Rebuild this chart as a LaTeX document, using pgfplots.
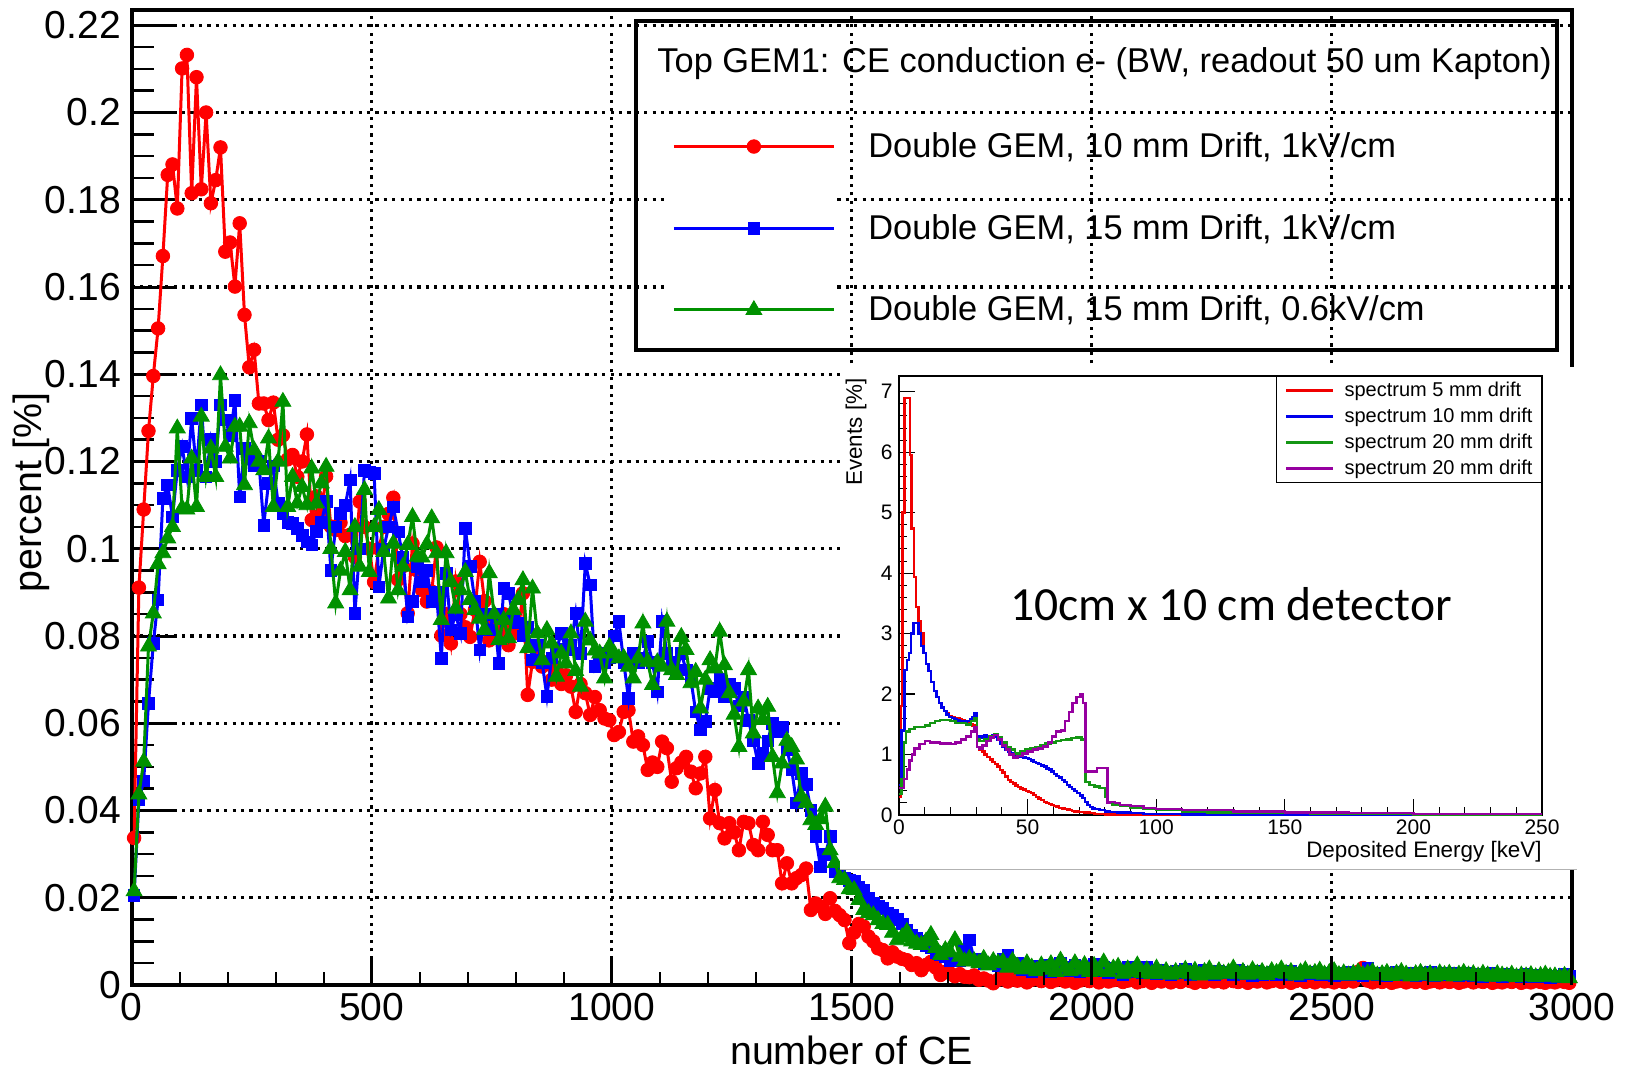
\documentclass[border=0pt]{standalone}
\usepackage{fontspec}
\setmainfont{Liberation Sans}
\newfontfamily\carlito{Carlito}
\usepackage{pgfplots}
\pgfplotsset{compat=1.18, /pgf/number format/assume math mode=true}
\definecolor{rgreen}{RGB}{0,145,0}
\definecolor{rblue}{RGB}{0,0,255}
\definecolor{ired}{RGB}{240,0,0}
\definecolor{iblue}{RGB}{0,0,235}
\definecolor{igreen}{RGB}{20,150,20}
\definecolor{ipurple}{RGB}{150,0,160}
\begin{document}
\begin{tikzpicture}
\begin{axis}[
  at={(0pt,0pt)}, anchor=south west,
  scale only axis, width=720pt, height=487.5pt,
  xmin=0, xmax=3000, ymin=0, ymax=0.2235,
  axis line style={line width=2pt},
  xtick={0,500,1000,1500,2000,2500,3000}, xticklabels={},
  xtick style={draw=none},
  ytick={0,0.02,0.04,0.06,0.08,0.1,0.12,0.14,0.16,0.18,0.2,0.22},
  yticklabels={0,0.02,0.04,0.06,0.08,0.1,0.12,0.14,0.16,0.18,0.2,0.22},
  minor y tick num=3,
  tick pos=left, tick align=inside,
  major tick length=21.5pt, minor tick length=11pt,
  major tick style={line width=1.5pt, black},
  minor tick style={line width=1.2pt, black},
  grid=major,
  major grid style={line width=1.6pt, black, dash pattern=on 1.6pt off 2.6pt},
  yticklabel style={font=\fontsize{19.5}{23}\selectfont, inner sep=0pt, xshift=-5.3pt},
  ylabel={percent [\%]},
  ylabel style={font=\fontsize{19.7}{23}\selectfont, at={(axis description cs:-0.0699,0.505)}, anchor=center},
  clip mode=individual,
  legend style={at={(0.3752,0.8747)}, anchor=north west, draw=none, fill=none, inner sep=0pt,
    font=\fontsize{17.2}{20}\selectfont, row sep=26.9pt, /tikz/column sep=16.5pt, nodes={inner sep=0pt}},
  legend cell align=left,
  legend image code/.code={\draw[mark repeat=2,mark phase=2] plot coordinates {(0pt,0pt) (40pt,0pt) (80pt,0pt)};},
]
\fill[white] (axis cs:1111,0.172) rectangle (axis cs:1465,0.188);
\fill[white] (axis cs:1111,0.152) rectangle (axis cs:1465,0.168);
\addplot[red, line width=1.5pt, mark=*, mark size=3.4pt, mark options={solid, line width=0.4pt}] coordinates {
(5,.0337)(15,.0911)(25,.109)(35,.127)(45,.1396)(55,.1505)(65,.1671)(75,.1857)(85,.1881)(95,.178)
(105,.2101)(115,.2132)(125,.1815)(135,.2081)(145,.1824)(155,.2000)(165,.1792)(175,.1845)(185,.192)(195,.1681)
(205,.1702)(215,.1601)(225,.1746)(235,.1536)(245,.1416)(255,.1456)(265,.1333)(275,.1333)(285,.1295)(295,.1335)
(305,.1250)(315,.1260)(325,.1205)(335,.1215)(345,.1165)(355,.1200)(365,.1262)(375,.1066)(385,.1120)(395,.1080)
(405,.1166)(415,.1051)(425,.1043)(435,.1060)(445,.1029)(455,.1032)(465,.0981)(475,.1108)(485,.1050)(495,.1000)
(505,.0924)(515,.1000)(525,.1050)(535,.1080)(545,.1117)(555,.0929)(565,.0960)(575,.0852)(585,.1012)(595,.0950)
(605,.0905)(615,.0879)(625,.0902)(635,.1003)(645,.0801)(655,.0850)(665,.0783)(675,.0925)(685,.0850)(695,.0820)
(705,.0798)(715,.0860)(725,.0970)(735,.0880)(745,.0790)(755,.0830)(765,.0810)(775,.0850)(785,.0779)(795,.0820)
(805,.0806)(815,.0898)(825,.0665)(835,.0741)(845,.0760)(855,.0730)(865,.0740)(875,.0700)(885,.0720)(895,.0690)
(905,.0710)(915,.0684)(925,.0626)(935,.0690)(945,.0669)(955,.0619)(965,.0660)(975,.0630)(985,.0611)(995,.0607)
(1005,.0573)(1015,.0580)(1025,.0626)(1035,.0630)(1045,.0558)(1055,.0570)(1065,.0550)(1075,.0493)(1085,.0510)(1095,.0500)
(1105,.0558)(1115,.0543)(1125,.0466)(1135,.0497)(1145,.0510)(1155,.0523)(1165,.0489)(1175,.0451)(1185,.0485)(1195,.0523)
(1205,.0382)(1215,.0447)(1225,.0371)(1235,.0336)(1245,.0371)(1255,.0350)(1265,.0309)(1275,.0374)(1285,.0371)(1295,.0321)
(1305,.0309)(1315,.0374)(1325,.0344)(1335,.0309)(1345,.0309)(1355,.0233)(1365,.0279)(1375,.0233)(1385,.0245)(1395,.0252)
(1405,.0267)(1415,.0172)(1425,.0187)(1435,.0180)(1445,.0163)(1455,.0199)(1465,.0170)(1475,.0160)(1485,.0149)(1495,.0096)
(1505,.0120)(1515,.0140)(1525,.0134)(1535,.0111)(1545,.0100)(1555,.0084)(1565,.0080)(1575,.0061)(1585,.0075)(1595,.0065)
(1605,.0060)(1615,.0057)(1625,.0046)(1635,.0050)(1645,.0034)(1655,.0046)(1665,.0053)(1675,.0040)(1685,.0023)(1695,.0030)
(1705,.0027)(1715,.0020)(1725,.0025)(1735,.0019)(1745,.0018)(1755,.0022)(1765,.0012)(1775,.0015)(1785,.0010)(1795,.0004)
(1805,.0012)(1815,.0020)(1825,.0008)(1835,.0015)(1845,.0010)(1855,.0018)(1865,.0006)(1875,.0012)(1885,.0022)(1895,.0009)
(1905,.0014)(1915,.0007)(1925,.0011)(1935,.0016)(1945,.0008)(1955,.0013)(1965,.0005)(1975,.0010)(1985,.0015)(1995,.0009)
(2005,.0012)(2015,.0006)(2025,.0014)(2035,.0008)(2045,.0011)(2055,.0016)(2065,.0007)(2075,.0010)(2085,.0013)(2095,.0006)
(2105,.0009)(2115,.0012)(2125,.0005)(2135,.0011)(2145,.0008)(2155,.0014)(2165,.0006)(2175,.0010)(2185,.0007)(2195,.0012)
(2205,.0009)(2215,.0005)(2225,.0011)(2235,.0007)(2245,.0013)(2255,.0008)(2265,.0010)(2275,.0006)(2285,.0012)(2295,.0009)
(2305,.0007)(2315,.0011)(2325,.0005)(2335,.0010)(2345,.0008)(2355,.0012)(2365,.0006)(2375,.0009)(2385,.0011)(2395,.0007)
(2405,.0010)(2415,.0005)(2425,.0009)(2435,.0012)(2445,.0007)(2455,.0010)(2465,.0006)(2475,.0011)(2485,.0008)(2495,.0009)
(2505,.0006)(2515,.0010)(2525,.0007)(2535,.0012)(2545,.0008)(2555,.0030)(2565,.0039)(2575,.0010)(2585,.0006)(2595,.0009)
(2605,.0007)(2615,.0011)(2625,.0005)(2635,.0008)(2645,.0010)(2655,.0006)(2665,.0009)(2675,.0007)(2685,.0011)(2695,.0005)
(2705,.0008)(2715,.0010)(2725,.0006)(2735,.0009)(2745,.0007)(2755,.0010)(2765,.0005)(2775,.0008)(2785,.0011)(2795,.0006)
(2805,.0009)(2815,.0007)(2825,.0010)(2835,.0005)(2845,.0008)(2855,.0006)(2865,.0009)(2875,.0007)(2885,.0010)(2895,.0005)
(2905,.0008)(2915,.0006)(2925,.0009)(2935,.0007)(2945,.0005)(2955,.0008)(2965,.0006)(2975,.0009)(2985,.0007)(2995,.0005)
};
\addlegendentry{Double GEM, 10 mm Drift, 1kV/cm}
\addplot[rblue, line width=1.5pt, mark=square*, mark size=2.9pt, mark options={solid, line width=0.4pt}] coordinates {
(5,.0205)(15,.0424)(25,.0468)(35,.0646)(45,.0783)(55,.0883)(65,.1116)(75,.1146)(85,.1073)(95,.1180)
(105,.1234)(115,.1165)(125,.1299)(135,.1180)(145,.1330)(155,.1165)(165,.1250)(175,.1200)(185,.1330)(195,.1295)
(205,.1260)(215,.1340)(225,.1119)(235,.1230)(245,.1207)(255,.1190)(265,.1200)(275,.1054)(285,.1150)(295,.1190)
(305,.1104)(315,.1080)(325,.1060)(335,.1058)(345,.1047)(355,.1030)(365,.1016)(375,.1009)(385,.1040)(395,.1060)
(405,.1108)(415,.0951)(425,.1050)(435,.1081)(445,.1100)(455,.1158)(465,.0852)(475,.1000)(485,.1180)(495,.1176)
(505,.1173)(515,.0913)(525,.1000)(535,.1050)(545,.1096)(555,.1039)(565,.0980)(575,.0844)(585,.0879)(595,.0959)
(605,.0924)(615,.0950)(625,.0880)(635,.0900)(645,.0749)(655,.0944)(665,.0814)(675,.0850)(685,.0806)(695,.1047)
(705,.0959)(715,.0880)(725,.0768)(735,.0850)(745,.0814)(755,.0850)(765,.0737)(775,.0909)(785,.0898)(795,.0844)
(805,.0830)(815,.0800)(825,.0820)(835,.0745)(845,.0780)(855,.0740)(865,.0661)(875,.0750)(885,.0770)(895,.0806)
(905,.0768)(915,.0780)(925,.0852)(935,.0760)(945,.0967)(955,.0917)(965,.0730)(975,.0760)(985,.0740)(995,.0750)
(1005,.0800)(1015,.0833)(1025,.0740)(1035,.0657)(1045,.0760)(1055,.0740)(1065,.0750)(1075,.0787)(1085,.0740)(1095,.0672)
(1105,.0833)(1115,.0760)(1125,.0741)(1135,.0720)(1145,.0760)(1155,.0722)(1165,.0700)(1175,.0626)(1185,.0585)(1195,.0604)
(1205,.0680)(1215,.0672)(1225,.0700)(1235,.0661)(1245,.0690)(1255,.0680)(1265,.0640)(1275,.0660)(1285,.0607)(1295,.0560)
(1305,.0508)(1315,.0531)(1325,.0560)(1335,.0600)(1345,.0580)(1355,.0592)(1365,.0540)(1375,.0493)(1385,.0417)(1395,.0485)
(1405,.0460)(1415,.0400)(1425,.0340)(1435,.0271)(1445,.0300)(1455,.0340)(1465,.0260)(1475,.0250)(1485,.0245)(1495,.0240)
(1505,.0237)(1515,.0225)(1525,.0218)(1535,.0200)(1545,.0187)(1555,.0180)(1565,.0175)(1575,.0165)(1585,.0160)(1595,.0150)
(1605,.0140)(1615,.0125)(1625,.0115)(1635,.0107)(1645,.0100)(1655,.0090)(1665,.0085)(1675,.0075)(1685,.0070)(1695,.0065)
(1705,.0057)(1715,.0060)(1725,.0055)(1735,.0080)(1745,.0103)(1755,.0060)(1765,.0055)(1775,.0050)(1785,.0048)(1795,.0050)
(1805,.0045)(1815,.0060)(1825,.0069)(1835,.0045)(1845,.0050)(1855,.0035)(1865,.0040)(1875,.0030)(1885,.0042)(1895,.0035)
(1905,.0045)(1915,.0030)(1925,.0038)(1935,.0050)(1945,.0040)(1955,.0032)(1965,.0045)(1975,.0030)(1985,.0040)(1995,.0035)
(2005,.0048)(2015,.0032)(2025,.0040)(2035,.0028)(2045,.0038)(2055,.0035)(2065,.0025)(2075,.0040)(2085,.0030)(2095,.0035)
(2105,.0028)(2115,.0040)(2125,.0030)(2135,.0026)(2145,.0035)(2155,.0030)(2165,.0025)(2175,.0032)(2185,.0028)(2195,.0036)
(2205,.0025)(2215,.0030)(2225,.0026)(2235,.0034)(2245,.0028)(2255,.0024)(2265,.0032)(2275,.0028)(2285,.0030)(2295,.0025)
(2305,.0034)(2315,.0026)(2325,.0029)(2335,.0022)(2345,.0031)(2355,.0025)(2365,.0028)(2375,.0030)(2385,.0024)(2395,.0029)
(2405,.0025)(2415,.0032)(2425,.0027)(2435,.0022)(2445,.0029)(2455,.0026)(2465,.0030)(2475,.0024)(2485,.0028)(2495,.0025)
(2505,.0022)(2515,.0028)(2525,.0025)(2535,.0030)(2545,.0024)(2555,.0027)(2565,.0022)(2575,.0038)(2585,.0026)(2595,.0024)
(2605,.0028)(2615,.0022)(2625,.0026)(2635,.0030)(2645,.0023)(2655,.0025)(2665,.0028)(2675,.0022)(2685,.0026)(2695,.0024)
(2705,.0029)(2715,.0022)(2725,.0025)(2735,.0028)(2745,.0023)(2755,.0026)(2765,.0021)(2775,.0024)(2785,.0027)(2795,.0022)
(2805,.0025)(2815,.0020)(2825,.0024)(2835,.0027)(2845,.0022)(2855,.0020)(2865,.0024)(2875,.0021)(2885,.0023)(2895,.0020)
(2905,.0024)(2915,.0019)(2925,.0022)(2935,.0020)(2945,.0023)(2955,.0018)(2965,.0021)(2975,.0019)(2985,.0024)(2995,.0020)
};
\addlegendentry{Double GEM, 15 mm Drift, 1kV/cm}
\addplot[rgreen, line width=1.5pt, mark=triangle*, mark size=4.6pt, mark options={solid, line width=0.4pt}] coordinates {
(5,.0215)(15,.0437)(25,.0512)(35,.0776)(45,.0852)(55,.0965)(65,.0990)(75,.1024)(85,.1050)(95,.1276)
(105,.1093)(115,.1090)(125,.1207)(135,.1096)(145,.1303)(155,.1165)(165,.1230)(175,.1165)(185,.1398)(195,.1234)
(205,.1207)(215,.1280)(225,.1280)(235,.1146)(245,.1288)(255,.1226)(265,.1200)(275,.1180)(285,.1253)(295,.1096)
(305,.1200)(315,.1337)(325,.1096)(335,.1165)(345,.1104)(355,.1142)(365,.1100)(375,.1184)(385,.1104)(395,.1150)
(405,.1188)(415,.1000)(425,.0875)(435,.0950)(445,.0993)(455,.0905)(465,.1050)(475,.0959)(485,.1135)(495,.0947)
(505,.1050)(515,.1089)(525,.0993)(535,.0886)(545,.1012)(555,.0905)(565,.0959)(575,.1009)(585,.1073)(595,.0982)
(605,.0980)(615,.1010)(625,.1070)(635,.0990)(645,.0837)(655,.0990)(665,.0924)(675,.0863)(685,.0905)(695,.0947)
(705,.0883)(715,.0860)(725,.0840)(735,.0814)(745,.0944)(755,.0850)(765,.0791)(775,.0837)(785,.0795)(795,.0860)
(805,.0883)(815,.0928)(825,.0772)(835,.0909)(845,.0806)(855,.0745)(865,.0814)(875,.0783)(885,.0707)(895,.0760)
(905,.0737)(915,.0806)(925,.0720)(935,.0684)(945,.0833)(955,.0790)(965,.0767)(975,.0760)(985,.0703)(995,.0775)
(1005,.0760)(1015,.0749)(1025,.0750)(1035,.0730)(1045,.0703)(1055,.0749)(1065,.0829)(1075,.0741)(1085,.0688)(1095,.0740)
(1105,.0730)(1115,.0833)(1125,.0722)(1135,.0711)(1145,.0798)(1155,.0768)(1165,.0692)(1175,.0718)(1185,.0634)(1195,.0700)
(1205,.0745)(1215,.0726)(1225,.0810)(1235,.0733)(1245,.0669)(1255,.0620)(1265,.0546)(1275,.0650)(1285,.0722)(1295,.0577)
(1305,.0634)(1315,.0608)(1325,.0638)(1335,.0523)(1345,.0440)(1355,.0508)(1365,.0560)(1375,.0546)(1385,.0517)(1395,.0432)
(1405,.0417)(1415,.0378)(1425,.0367)(1435,.0380)(1445,.0409)(1455,.0309)(1465,.0280)(1475,.0245)(1485,.0241)(1495,.0220)
(1505,.0218)(1515,.0195)(1525,.0172)(1535,.0165)(1545,.0160)(1555,.0149)(1565,.0140)(1575,.0138)(1585,.0120)(1595,.0103)
(1605,.0110)(1615,.0122)(1625,.0100)(1635,.0095)(1645,.0092)(1655,.0100)(1665,.0115)(1675,.0085)(1685,.0069)(1695,.0080)
(1705,.0075)(1715,.0103)(1725,.0065)(1735,.0054)(1745,.0060)(1755,.0055)(1765,.0050)(1775,.0060)(1785,.0045)(1795,.0055)
(1805,.0050)(1815,.0053)(1825,.0040)(1835,.0055)(1845,.0042)(1855,.0036)(1865,.0050)(1875,.0040)(1885,.0032)(1895,.0045)
(1905,.0035)(1915,.0048)(1925,.0030)(1935,.0056)(1945,.0040)(1955,.0032)(1965,.0050)(1975,.0035)(1985,.0046)(1995,.0030)
(2005,.0044)(2015,.0032)(2025,.0052)(2035,.0030)(2045,.0038)(2055,.0042)(2065,.0026)(2075,.0036)(2085,.0030)(2095,.0045)
(2105,.0028)(2115,.0034)(2125,.0025)(2135,.0038)(2145,.0026)(2155,.0032)(2165,.0024)(2175,.0030)(2185,.0027)(2195,.0035)
(2205,.0025)(2215,.0033)(2225,.0022)(2235,.0030)(2245,.0036)(2255,.0024)(2265,.0032)(2275,.0026)(2285,.0029)(2295,.0038)
(2305,.0025)(2315,.0030)(2325,.0024)(2335,.0034)(2345,.0026)(2355,.0030)(2365,.0023)(2375,.0032)(2385,.0028)(2395,.0036)
(2405,.0026)(2415,.0030)(2425,.0022)(2435,.0029)(2445,.0034)(2455,.0025)(2465,.0028)(2475,.0033)(2485,.0024)(2495,.0028)
(2505,.0032)(2515,.0023)(2525,.0027)(2535,.0022)(2545,.0026)(2555,.0029)(2565,.0023)(2575,.0027)(2585,.0030)(2595,.0022)
(2605,.0025)(2615,.0028)(2625,.0021)(2635,.0026)(2645,.0030)(2655,.0024)(2665,.0020)(2675,.0025)(2685,.0028)(2695,.0022)
(2705,.0025)(2715,.0020)(2725,.0027)(2735,.0023)(2745,.0026)(2755,.0020)(2765,.0024)(2775,.0028)(2785,.0022)(2795,.0025)
(2805,.0020)(2815,.0026)(2825,.0022)(2835,.0019)(2845,.0025)(2855,.0022)(2865,.0020)(2875,.0024)(2885,.0018)(2895,.0022)
(2905,.0020)(2915,.0023)(2925,.0018)(2935,.0021)(2945,.0024)(2955,.0019)(2965,.0020)(2975,.0017)(2985,.0021)(2995,.0016)
};
\addlegendentry{Double GEM, 15 mm Drift, 0.6kV/cm}
\end{axis}
% x ticks (shorter than the y ticks)
\begin{axis}[
  at={(0pt,0pt)}, anchor=south west,
  scale only axis, width=720pt, height=487.5pt,
  xmin=0, xmax=3000, ymin=0, ymax=0.2235,
  axis line style={draw=none},
  ytick=\empty,
  xtick={0,500,1000,1500,2000,2500,3000},
  xticklabels={0,500,1000,1500,2000,2500,3000},
  minor x tick num=4,
  tick pos=left, tick align=inside,
  major tick length=14.5pt, minor tick length=6.5pt,
  major tick style={line width=1.5pt, black},
  minor tick style={line width=1.2pt, black},
  xticklabel style={font=\fontsize{19.5}{23}\selectfont, inner sep=0pt, anchor=north, yshift=-4pt},
  xlabel={number of CE},
  xlabel style={font=\fontsize{19.7}{23}\selectfont, at={(axis description cs:0.5,0)}, anchor=north, inner sep=0pt, yshift=-25.5pt},
]
\end{axis}
% legend frame and header
\draw[line width=2pt] (252.15pt,317.5pt) rectangle (712.65pt,482pt);
\node[anchor=base west, inner sep=0pt, font=\fontsize{17.2}{20}\selectfont] at (262.65pt,456.25pt) {Top GEM1: CE conduction e- (BW, readout 50 um Kapton)};
% inset
\fill[white] (354.15pt,57.75pt) rectangle (722.65pt,309pt);
\draw[black!30, line width=0.6pt] (354.15pt,57.75pt) -- (722.65pt,57.75pt);
\begin{axis}[
  at={(383.65pt,85pt)}, anchor=south west,
  scale only axis, width=321.5pt, height=219.5pt,
  xmin=0, xmax=250, ymin=0, ymax=7.26,
  axis line style={line width=0.7pt},
  tick pos=left, tick align=inside,
  xtick={0,50,100,150,200,250}, ytick={0,1,2,3,4,5,6,7},
  minor x tick num=4, minor y tick num=4,
  major tick length=8pt, minor tick length=4pt,
  major tick style={line width=0.6pt, black},
  minor tick style={line width=0.5pt, black},
  tick label style={font=\fontsize{10.5}{12}\selectfont},
  yticklabel style={inner sep=0pt, xshift=-3pt},
  xticklabel style={inner sep=0pt, anchor=north, yshift=-2pt},
  xlabel={Deposited Energy [keV]},
  ylabel={Events [\%]},
  xlabel style={font=\fontsize{11.2}{13}\selectfont, at={(axis description cs:1,-0.0843)}, anchor=east, inner sep=0pt},
  ylabel style={font=\fontsize{11.2}{13}\selectfont, at={(axis description cs:-0.0669,0.995)}, anchor=east, inner sep=0pt},
  legend style={at={(1,1)}, anchor=north east, draw=black, line width=0.6pt, fill=white,
    font=\fontsize{10}{12}\selectfont, inner xsep=4.5pt, inner ysep=2.5pt, row sep=4.3pt,
    /tikz/column sep=5pt, nodes={inner sep=0pt}},
  legend cell align=left,
  legend image code/.code={\draw (0pt,0pt) -- (23.5pt,0pt);},
]
\addplot[const plot, ired, line width=1.2pt] coordinates {
(0,0.3)(0.8,1.8)(1.4,5.0)(2.1,6.9)(4.3,5.95)(4.9,4.74)(5.8,3.94)(6.7,3.44)(7.5,3.2)(8.5,3.0)(9.5,2.68)
(10.5,2.5)(11.5,2.38)(12.5,2.2)(13.5,2.05)(14.5,1.95)(15.5,1.85)(16.5,1.78)(17.5,1.72)(18.5,1.68)(19.5,1.64)
(20.5,1.62)(21.5,1.6)(22.5,1.6)(23.5,1.58)(24.5,1.57)(25.5,1.55)(26.5,1.53)(27.5,1.5)(28.5,1.48)(29.5,1.42)
(30.3,1.12)(31.3,1.08)(32.3,1.05)(33.3,1.0)(34.3,0.96)(35.3,0.92)(36.3,0.88)(37.3,0.84)(38.3,0.8)(39.3,0.74)
(40.3,0.7)(41.3,0.64)(42.3,0.58)(43.3,0.55)(44.3,0.52)(45.3,0.49)(46.3,0.46)(47.3,0.44)(48.3,0.42)(49.3,0.4)
(50.3,0.38)(51.3,0.36)(52.3,0.33)(53.3,0.3)(54.3,0.27)(55.3,0.25)(56.3,0.22)(57.3,0.2)(58.3,0.18)(59.3,0.17)
(60.3,0.15)(61.3,0.14)(62.3,0.12)(63.3,0.11)(64.3,0.1)(65.3,0.09)(66.3,0.08)(67.3,0.07)(68.3,0.06)(70,0.05)
(72,0.04)(74,0.03)(76,0.02)(80,0.01)(85,0.005)(90,0.002)(100,0)(250,0)
};
\addlegendentry{spectrum 5 mm drift}
\addplot[const plot, iblue, line width=1.2pt] coordinates {
(0,0.5)(1.0,1.4)(2.1,2.4)(3.0,2.56)(3.9,2.68)(4.7,3.0)(5.6,3.18)(7.5,3.0)(8.5,2.79)(9.5,2.68)
(10.5,2.5)(11.5,2.38)(12.5,2.2)(13.5,2.05)(14.5,1.95)(15.5,1.85)(16.5,1.78)(17.5,1.72)(18.5,1.66)(19.5,1.62)
(20.5,1.6)(21.5,1.58)(22.5,1.56)(23.5,1.55)(24.5,1.55)(25.5,1.54)(26.5,1.55)(27.5,1.58)(28.5,1.62)(29.3,1.68)
(30.3,1.3)(31.3,1.28)(32.3,1.3)(33.3,1.32)(34.3,1.3)(35.3,1.3)(36.3,1.32)(37.3,1.3)(38.3,1.25)(39.3,1.18)
(40.3,1.12)(41.3,1.08)(42.3,1.05)(43.3,1.02)(44.3,1.0)(45.3,0.98)(46.3,0.98)(47.3,0.96)(48.3,0.95)(49.3,0.94)
(50.3,0.93)(51.3,0.9)(52.3,0.88)(53.3,0.86)(54.3,0.84)(55.3,0.82)(56.3,0.8)(57.3,0.77)(58.3,0.75)(59.3,0.72)
(60.3,0.68)(61.3,0.65)(62.3,0.62)(63.3,0.58)(64.3,0.55)(65.3,0.5)(66.3,0.46)(67.3,0.43)(68.3,0.4)(69.3,0.36)
(70.3,0.32)(71.3,0.28)(72.3,0.22)(73.3,0.17)(74.3,0.13)(75.3,0.11)(76.3,0.1)(78,0.08)(80,0.06)(82,0.05)
(85,0.04)(90,0.03)(95,0.02)(100,0.015)(110,0.01)(130,0.005)(150,0.002)(200,0)(250,0)
};
\addlegendentry{spectrum 10 mm drift}
\addplot[const plot, igreen, line width=1.2pt] coordinates {
(0,0.35)(1.0,0.6)(2.0,1.2)(2.7,1.38)(4.0,1.42)(6.0,1.46)(10,1.48)(12,1.52)(14,1.55)(16,1.57)(20,1.55)
(22,1.52)(26,1.5)(28,1.55)(29.3,1.6)(30.3,1.26)(31.3,1.22)(33,1.25)(35,1.3)(37,1.33)(38.5,1.28)(40,1.2)
(42,1.12)(43.5,1.08)(45,1.02)(47,1.05)(49,1.08)(51,1.1)(53,1.12)(55,1.15)(57,1.18)(59,1.2)(61,1.22)
(63,1.24)(65,1.25)(67,1.27)(69,1.28)(71,1.25)(72.5,0.55)(74,0.5)(76,0.47)(78,0.45)(80,0.3)(81,0.2)
(83,0.17)(86,0.15)(90,0.12)(95,0.1)(100,0.08)(110,0.06)(120,0.04)(140,0.03)(160,0.02)(200,0.01)(250,0.01)
};
\addlegendentry{spectrum 20 mm drift}
\addplot[const plot, ipurple, line width=1.2pt] coordinates {
(0,0.45)(2,0.6)(3,0.75)(4,0.9)(5,1.0)(6,1.1)(8,1.17)(10,1.22)(12,1.2)(16,1.18)(20,1.17)
(22,1.2)(24,1.25)(26,1.3)(28,1.38)(29.3,1.45)(30.3,1.12)(31.3,1.1)(32.5,1.15)(34,1.22)(35.5,1.28)(37,1.32)
(38.5,1.25)(40,1.15)(41.5,1.08)(43,1.0)(44.5,0.95)(46,0.98)(48,1.02)(50,1.05)(52,1.08)(54,1.1)(56,1.13)
(58,1.2)(59.5,1.3)(61,1.38)(63,1.4)(64.5,1.55)(66,1.7)(67.5,1.85)(69,1.95)(70.5,2.0)(71.5,1.85)(72.5,0.72)
(77,0.78)(81,0.2)(82,0.22)(84,0.2)(86,0.17)(90,0.15)(95,0.12)(100,0.1)(110,0.08)(130,0.06)(150,0.04)
(175,0.03)(200,0.02)(250,0.02)
};
\addlegendentry{spectrum 20 mm drift}
\end{axis}
\node[font=\carlito\fontsize{23.8}{28}\selectfont, inner sep=0pt] at (549.65pt,190.5pt) {10cm x 10 cm detector};
\pgfresetboundingbox
\path[use as bounding box] (-65.85pt,-43pt) rectangle (746.65pt,492.5pt);
\end{tikzpicture}
\end{document}
